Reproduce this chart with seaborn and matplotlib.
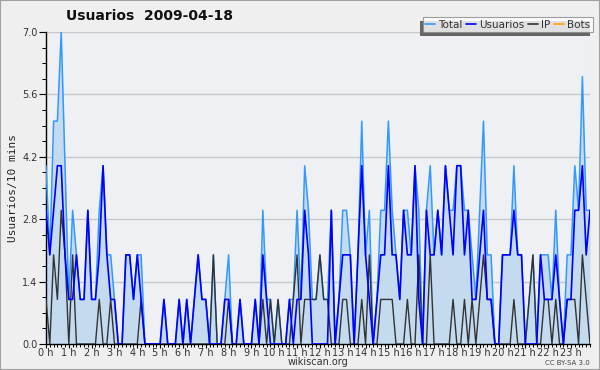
import numpy as np
import pandas as pd
import matplotlib
matplotlib.use("Agg")
import matplotlib.pyplot as plt
from matplotlib.patches import Rectangle
from matplotlib.ticker import MultipleLocator, FixedLocator
import seaborn as sns

# ---- data: 10-minute slots over one day ----
total = [4, 2, 5, 5, 7, 4, 1, 3, 2, 1, 1, 3, 1, 1, 3, 4, 2, 2, 1, 0, 0, 2, 2, 1,
         2, 2, 0, 0, 0, 0, 0, 1, 0, 0, 0, 1, 0, 1, 0, 1, 2, 1, 1, 0, 2, 0, 0, 1,
         2, 0, 0, 1, 0, 0, 0, 1, 0, 3, 1, 1, 0, 1, 0, 0, 1, 1, 3, 1, 4, 3, 1, 1,
         2, 1, 1, 3, 0, 1, 3, 3, 2, 0, 2, 5, 2, 3, 0, 1, 3, 3, 5, 3, 2, 1, 3, 3,
         2, 4, 3, 0, 3, 4, 2, 3, 2, 4, 3, 3, 4, 4, 3, 3, 2, 1, 3, 5, 2, 2, 0, 0,
         2, 2, 2, 4, 2, 2, 0, 1, 2, 0, 2, 2, 2, 1, 3, 1, 0, 2, 2, 4, 3, 6, 3, 3]
usuarios = [3, 2, 3, 4, 4, 2, 1, 1, 2, 1, 1, 3, 1, 1, 2, 4, 2, 1, 1, 0, 0, 2, 2, 1,
            2, 1, 0, 0, 0, 0, 0, 1, 0, 0, 0, 1, 0, 1, 0, 1, 2, 1, 1, 0, 0, 0, 0, 1,
            1, 0, 0, 1, 0, 0, 0, 1, 0, 2, 1, 0, 0, 0, 0, 0, 1, 0, 1, 1, 3, 2, 0, 0,
            0, 0, 0, 3, 0, 1, 2, 2, 2, 0, 2, 4, 2, 1, 0, 1, 2, 2, 4, 2, 2, 1, 3, 2,
            2, 4, 1, 0, 3, 2, 2, 3, 2, 4, 3, 2, 4, 4, 2, 3, 1, 1, 2, 3, 1, 1, 0, 0,
            2, 2, 2, 3, 2, 2, 0, 0, 0, 0, 2, 1, 1, 1, 2, 1, 0, 1, 1, 3, 3, 4, 2, 3]
ip = [1, 0, 2, 1, 3, 2, 0, 2, 0, 0, 0, 0, 0, 0, 1, 0, 0, 1, 0, 0, 0, 0, 0, 0,
      0, 1, 0, 0, 0, 0, 0, 0, 0, 0, 0, 0, 0, 0, 0, 0, 0, 0, 0, 0, 2, 0, 0, 0,
      1, 0, 0, 0, 0, 0, 0, 0, 0, 1, 0, 1, 0, 1, 0, 0, 0, 1, 2, 0, 1, 1, 1, 1,
      2, 1, 1, 0, 0, 0, 1, 1, 0, 0, 0, 1, 0, 2, 0, 0, 1, 1, 1, 1, 0, 0, 0, 1,
      0, 0, 2, 0, 0, 2, 0, 0, 0, 0, 0, 1, 0, 0, 1, 0, 1, 0, 1, 2, 1, 1, 0, 0,
      0, 0, 0, 1, 0, 0, 0, 1, 2, 0, 0, 1, 1, 0, 1, 0, 0, 1, 1, 1, 0, 2, 1, 0]
bots = [0] * 144
slot_minutes = 10
hour_labels = [f"{h} h" for h in range(24)]
y_ticks = [0.0, 1.4, 2.8, 4.2, 5.6, 7.0]

hours = np.arange(len(total)) * slot_minutes / 60.0
df = pd.DataFrame({"t": hours, "Total": total, "Usuarios": usuarios,
                   "IP": ip, "Bots": bots})

C_TOTAL = "#3399ff"
C_USU = "#0000ff"
C_IP = "#333333"
C_BOTS = "#ffa500"

sns.set_theme(style="ticks")
plt.rcParams["font.family"] = ["DejaVu Sans"]

W, H = 600, 370
fig = plt.figure(figsize=(W / 100, H / 100), dpi=100)
fig.patch.set_facecolor("#efefef")
ax = fig.add_axes([46/W, 26/H, (590-46)/W, (344-32)/H])
ax.set_facecolor("#eef0f3")

sns.lineplot(data=df, x="t", y="Bots", color=C_BOTS, lw=0.9, ax=ax, zorder=0.5)
ax.fill_between(df["t"], df["Total"], 0, color="#c3daef", linewidth=0, zorder=1)
sns.lineplot(data=df, x="t", y="Total", color=C_TOTAL, lw=1.1, ax=ax, zorder=3)
sns.lineplot(data=df, x="t", y="IP", color=C_IP, lw=1.0, ax=ax, zorder=4)
sns.lineplot(data=df, x="t", y="Usuarios", color=C_USU, lw=1.2, ax=ax, zorder=5)

ax.set_xlim(0, hours[-1])
ax.set_ylim(0, 7.0)
ax.yaxis.set_major_locator(FixedLocator(y_ticks))
ax.set_yticklabels([f"{v:.1f}" for v in y_ticks])
ax.yaxis.set_minor_locator(MultipleLocator(0.35))
ax.xaxis.set_major_locator(FixedLocator(list(range(24))))
ax.set_xticklabels(hour_labels)
ax.xaxis.set_minor_locator(MultipleLocator(slot_minutes / 60.0))
ax.grid(axis="y", color="#c8c8c8", lw=1.0, zorder=0)
ax.set_axisbelow(True)

for s in ["top", "right"]:
    ax.spines[s].set_visible(False)
for s in ["left", "bottom"]:
    ax.spines[s].set_color("black")
    ax.spines[s].set_linewidth(1.0)
ax.tick_params(axis="y", which="major", direction="out", length=5,
               width=0.8, color="black", labelsize=7, pad=1, labelcolor="#333333")
ax.tick_params(axis="y", which="minor", direction="out", length=3,
               width=0.7, color="black")
ax.tick_params(axis="x", which="major", direction="out", length=3,
               width=0.8, color="black", labelsize=7, pad=0, labelcolor="#333333")
ax.tick_params(axis="x", which="minor", direction="out", length=2.5,
               width=0.7, color="black")

ax.set_xlabel("wikiscan.org", fontsize=7, color="#333333", labelpad=-1)
ax.set_ylabel("Usuarios/10 mins", fontsize=8, family="DejaVu Sans Mono",
              color="#222222", labelpad=3)

fig.text(150/W, 1 - 16/H, "Usuarios  2009-04-18", ha="center", va="center",
         fontsize=10, weight="bold", color="#111111")
fig.text(590/W, 1 - 363/H, "CC BY-SA 3.0", ha="right", va="center",
         fontsize=5, color="#444444")

handles = [plt.Line2D([], [], color=c, lw=1.2) for c in [C_TOTAL, C_USU, C_IP, C_BOTS]]
leg = fig.legend(handles, ["Total", "Usuarios", "IP", "Bots"], ncol=4,
                 loc="upper right", bbox_to_anchor=(593/W, 1 - 17/H),
                 fontsize=7.5, frameon=True, fancybox=False, handlelength=0.9,
                 handletextpad=0.35, columnspacing=0.35, borderpad=0.25,
                 borderaxespad=0, labelcolor="#333333")
leg.get_frame().set_facecolor("white")
leg.get_frame().set_edgecolor("#888888")
leg.get_frame().set_linewidth(0.8)
leg.set_zorder(10)

fig.canvas.draw()
bb = leg.get_window_extent()
fig.patches.append(Rectangle(((bb.x0 - 3) / W, (bb.y0 - 4) / H),
                             bb.width / W, bb.height / H,
                             transform=fig.transFigure, facecolor="#666666",
                             edgecolor="none", zorder=9))

fig.patches.append(Rectangle((0, 0), 1, 1, transform=fig.transFigure,
                             fill=False, edgecolor="#a0a0a0", lw=1.5, zorder=20))

fig.savefig("out.png", dpi=100, facecolor=fig.get_facecolor())
